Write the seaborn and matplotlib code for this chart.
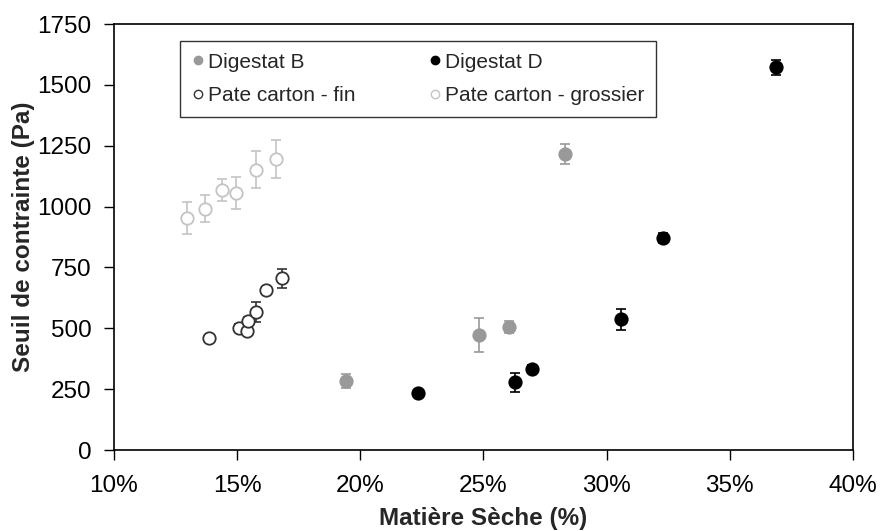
import matplotlib
matplotlib.use("Agg")
import matplotlib.pyplot as plt
import seaborn as sns
import numpy as np
import pandas as pd
from matplotlib.ticker import FuncFormatter

# ---- data (Matière sèche in %, seuil de contrainte in Pa) ----
digB_x = [19.41, 24.80, 26.05, 28.32]
digB_y = [282, 473, 505, 1215]
digB_e = [29, 70, 25, 42]

digD_x = [22.34, 26.27, 26.97, 30.58, 32.28, 36.87]
digD_y = [235, 278, 334, 537, 870, 1572]
digD_e = [12, 38, 15, 43, 20, 32]

fin_x = [13.84, 15.06, 15.40, 15.43, 15.78, 16.18, 16.83]
fin_y = [459, 502, 490, 530, 567, 657, 705]
fin_e = [15, 15, 15, 15, 40, 12, 38]

gro_x = [12.98, 13.68, 14.40, 14.97, 15.77, 16.58]
gro_y = [952, 991, 1067, 1057, 1152, 1196]
gro_e = [66, 55, 45, 65, 77, 77]

labels = ["Digestat B", "Digestat D", "Pate carton - fin", "Pate carton - grossier"]
x_ticks = [10, 15, 20, 25, 30, 35, 40]
y_ticks = [0, 250, 500, 750, 1000, 1250, 1500, 1750]

sns.set_style("white")
plt.rcParams["font.family"] = ["Liberation Sans", "DejaVu Sans"]

fig = plt.figure(figsize=(8.8, 5.31), dpi=100)
ax = fig.add_axes([0.1295, 0.1525, 0.8398, 0.8023])

series = [
    (digB_x, digB_y, digB_e, dict(facecolor="#999999", edgecolor="#999999"), "#999999"),
    (digD_x, digD_y, digD_e, dict(facecolor="black", edgecolor="black"), "black"),
    (fin_x, fin_y, fin_e, dict(facecolor="white", edgecolor="#333333"), "#333333"),
    (gro_x, gro_y, gro_e, dict(facecolor="white", edgecolor="#c4c4c4"), "#c4c4c4"),
]

handles = []
for (xs, ys, es, style, ecol), lab in zip(series, labels):
    ax.errorbar(xs, ys, yerr=es, fmt="none", ecolor=ecol, elinewidth=1.2,
                capsize=3.5, capthick=1.2, zorder=2)
    df = pd.DataFrame({"x": xs, "y": ys})
    sns.scatterplot(data=df, x="x", y="y", ax=ax, s=80, marker="o",
                    linewidth=1.3, zorder=3, legend=False, **style)
    handles.append(plt.Line2D([], [], linestyle="none", marker="o", markersize=6,
                              markerfacecolor=style["facecolor"],
                              markeredgecolor=style["edgecolor"], markeredgewidth=1))

ax.set_xlim(10, 40)
ax.set_ylim(0, 1750)
ax.set_xticks(x_ticks)
ax.set_yticks(y_ticks)
ax.xaxis.set_major_formatter(FuncFormatter(lambda v, p: f"{int(v)}%"))
ax.tick_params(axis="both", labelsize=17.5, direction="out", length=7, width=1,
               colors="black", bottom=True, left=True)
ax.tick_params(axis="x", pad=11)
ax.tick_params(axis="y", pad=9)

for sp in ax.spines.values():
    sp.set_color("black")
    sp.set_linewidth(1.2)

ax.set_xlabel("Matière Sèche (%)", fontsize=17.5, fontweight="bold", labelpad=7)
ax.set_ylabel("Seuil de contrainte (Pa)", fontsize=17.5, fontweight="bold", labelpad=2)

# row-wise order for a 2-column legend (matplotlib fills column by column)
order = [0, 2, 1, 3]
leg = ax.legend([handles[i] for i in order], [labels[i] for i in order], ncol=2,
                loc="upper left", bbox_to_anchor=(0.0893, 0.960), borderaxespad=0,
                fontsize=15, frameon=True, fancybox=False, edgecolor="black",
                handletextpad=0.2, handlelength=0.6, columnspacing=3.5,
                borderpad=0.55, labelspacing=0.7)
leg.get_frame().set_linewidth(1.0)

fig.savefig("out.png", dpi=100)
